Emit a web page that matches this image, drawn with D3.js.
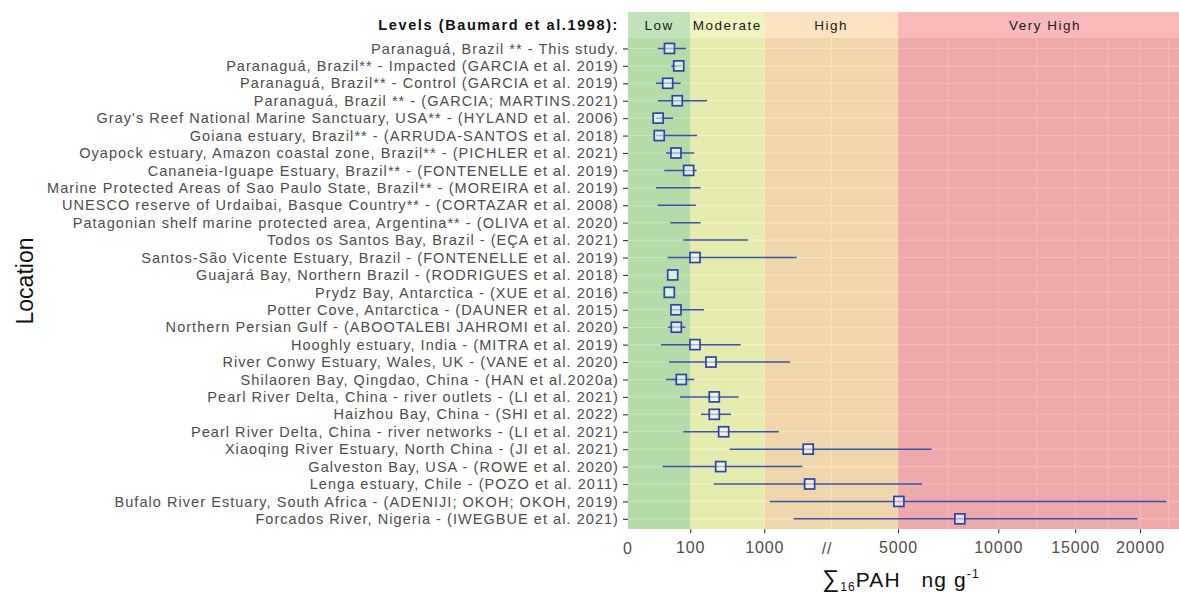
<!DOCTYPE html>
<html>
<head>
<meta charset="utf-8">
<script src="https://cdn.jsdelivr.net/npm/d3@7"></script>
<style>
  body { margin: 0; background: #fff; }
  svg { display: block; font-family: "Liberation Sans", Arial, sans-serif; }
</style>
</head>
<body>
<svg id="chart" width="1179" height="593"></svg>
<script>
// Sediment ∑16PAH concentrations (ng g-1) by location: whisker = min–max, square = mean
const locations = [
  "Paranaguá, Brazil ** - This study.",
  "Paranaguá, Brazil** - Impacted (GARCIA et al. 2019)",
  "Paranaguá, Brazil** - Control (GARCIA et al. 2019)",
  "Paranaguá, Brazil ** - (GARCIA; MARTINS.2021)",
  "Gray's Reef National Marine Sanctuary, USA** - (HYLAND et al. 2006)",
  "Goiana estuary, Brazil** - (ARRUDA-SANTOS et al. 2018)",
  "Oyapock estuary, Amazon coastal zone, Brazil** - (PICHLER et al. 2021)",
  "Cananeia-Iguape Estuary, Brazil** - (FONTENELLE et al. 2019)",
  "Marine Protected Areas of Sao Paulo State, Brazil** - (MOREIRA et al. 2019)",
  "UNESCO reserve of Urdaibai, Basque Country** - (CORTAZAR et al. 2008)",
  "Patagonian shelf marine protected area, Argentina** - (OLIVA et al. 2020)",
  "Todos os Santos Bay, Brazil - (EÇA et al. 2021)",
  "Santos-São Vicente Estuary, Brazil - (FONTENELLE et al. 2019)",
  "Guajará Bay, Northern Brazil - (RODRIGUES et al. 2018)",
  "Prydz Bay, Antarctica - (XUE et al. 2016)",
  "Potter Cove, Antarctica - (DAUNER et al. 2015)",
  "Northern Persian Gulf - (ABOOTALEBI JAHROMI et al. 2020)",
  "Hooghly estuary, India - (MITRA et al. 2019)",
  "River Conwy Estuary, Wales, UK - (VANE et al. 2020)",
  "Shilaoren Bay, Qingdao, China - (HAN et al.2020a)",
  "Pearl River Delta, China - river outlets - (LI et al. 2021)",
  "Haizhou Bay, China - (SHI et al. 2022)",
  "Pearl River Delta, China - river networks - (LI et al. 2021)",
  "Xiaoqing River Estuary, North China - (JI et al. 2021)",
  "Galveston Bay, USA - (ROWE et al. 2020)",
  "Lenga estuary, Chile - (POZO et al. 2011)",
  "Bufalo River Estuary, South Africa - (ADENIJI; OKOH; OKOH, 2019)",
  "Forcados River, Nigeria - (IWEGBUE et al. 2021)"
];
const meanValues = [15.5, 44, 11.7, 38.7, 0.4, 0.9, 34, 91, null, null, null, null, 130, 23.8,
  15.1, 34, 35.2, 130, 258, 54.6, 290, 290, 391, 1978, 357, 2015, 5037, 7883];
const minValues = [0.3, 20, 0, 0.3, 0, 0, 8.5, 5.9, 0, 0.25, 17.4, 63.6, 11.7, null,
  null, 19.2, 12.3, 2.1, 14.4, 8.5, 49, 173, 63.6, 463, 3.8, 284, 1103, 1617];
const maxValues = [77, 55, 52, 223, 25, 145, 125, 141, 170, 136, 170, 727, 1689, null,
  null, 196, 75, 612, 1532, 125, 583, 480, 1290, 6483, 1826, 6049, 22246, 19791];

const tickValues = [100, 1000, 5000, 10000, 15000, 20000];
const tickLabels = ["100", "1000", "5000", "10000", "15000", "20000"];

// Contamination levels (Baumard et al. 1998)
const levelNames = ["Low", "Moderate", "High", "Very High"];
const levelFrom = [null, 100, 1000, 5000];
const levelTo = [100, 1000, 5000, null];
const levelPanelFill = ["rgb(100,195,70)", "rgb(222,238,85)", "rgb(245,182,78)", "rgb(242,72,72)"];
const levelHeaderFill = ["#c3e2bb", "#eff3c0", "#fde3bf", "#f8b9b9"];

const svg = d3.select("#chart");
const panel = { left: 628, right: 1192, top: 38, bottom: 529.3 };

const x = d3.scalePow().exponent(0.5).domain([0, 20000]).range([656, 1140]);
const y = d3.scalePoint().domain(locations).range([panel.top, panel.bottom]).padding(0.6);

const rows = locations.map((loc, i) => ({ loc, mean: meanValues[i], min: minValues[i], max: maxValues[i] }));

svg.append("defs").append("clipPath").attr("id", "panel-clip")
  .append("rect").attr("x", panel.left).attr("y", panel.top)
  .attr("width", panel.right - panel.left).attr("height", panel.bottom - panel.top);

const plot = svg.append("g").attr("clip-path", "url(#panel-clip)");

// panel background
plot.append("rect").attr("x", panel.left).attr("y", panel.top)
  .attr("width", panel.right - panel.left).attr("height", panel.bottom - panel.top)
  .attr("fill", "#ebebeb");

// grid: one line per location, vertical lines at major breaks and sqrt-space midpoints
plot.append("g").selectAll("line").data(locations).join("line")
  .attr("x1", panel.left).attr("x2", panel.right)
  .attr("y1", d => y(d)).attr("y2", d => y(d))
  .attr("stroke", "#fff").attr("stroke-width", 1.1);

const gridMajors = [1000, 5000, 10000, 15000, 20000, 25000];
const gridValues = [];
gridMajors.forEach((v, i) => {
  gridValues.push(v);
  if (i < gridMajors.length - 1) {
    const mid = (Math.sqrt(v) + Math.sqrt(gridMajors[i + 1])) / 2;
    gridValues.push(mid * mid);
  }
});
plot.append("g").selectAll("line").data(gridValues).join("line")
  .attr("x1", d => x(d)).attr("x2", d => x(d))
  .attr("y1", panel.top).attr("y2", panel.bottom)
  .attr("stroke", "#fff").attr("stroke-width", 1.1);

// level bands over the panel
const bandX0 = i => levelFrom[i] === null ? panel.left : x(levelFrom[i]);
const bandX1 = i => levelTo[i] === null ? panel.right : x(levelTo[i]);
plot.append("g").selectAll("rect").data(levelNames).join("rect")
  .attr("x", (d, i) => bandX0(i)).attr("width", (d, i) => bandX1(i) - bandX0(i))
  .attr("y", panel.top).attr("height", panel.bottom - panel.top)
  .attr("fill", (d, i) => levelPanelFill[i]).attr("fill-opacity", 0.4);

// whiskers
const markColor = "#2a45ab";
plot.append("g").selectAll("line").data(rows.filter(r => r.min !== null && r.max !== null)).join("line")
  .attr("x1", d => x(d.min)).attr("x2", d => x(d.max))
  .attr("y1", d => y(d.loc)).attr("y2", d => y(d.loc))
  .attr("stroke", markColor).attr("stroke-opacity", 0.92).attr("stroke-width", 1.5);

// mean squares
const box = 10;
plot.append("g").selectAll("rect").data(rows.filter(r => r.mean !== null)).join("rect")
  .attr("x", d => x(d.mean) - box / 2).attr("y", d => y(d.loc) - box / 2)
  .attr("width", box).attr("height", box)
  .attr("fill", "#fff").attr("fill-opacity", 0.55)
  .attr("stroke", markColor).attr("stroke-width", 1.7);

// level header strip
const header = svg.append("g");
header.selectAll("rect").data(levelNames).join("rect")
  .attr("x", (d, i) => bandX0(i)).attr("width", (d, i) => bandX1(i) - bandX0(i))
  .attr("y", 12).attr("height", panel.top - 12)
  .attr("fill", (d, i) => levelHeaderFill[i]);
header.selectAll("text").data(levelNames).join("text")
  .attr("x", (d, i) => (bandX0(i) + bandX1(i)) / 2).attr("y", 29.5)
  .attr("text-anchor", "middle").attr("font-size", 13.5).attr("letter-spacing", 1.5)
  .attr("fill", "#1a1a1a").text(d => d);
svg.append("text").attr("x", 619).attr("y", 29.5).attr("text-anchor", "end")
  .attr("font-size", 14.5).attr("font-weight", "bold").attr("letter-spacing", 1.6)
  .attr("fill", "#111").text("Levels (Baumard et al.1998):");

// y axis
const yAxis = svg.append("g").attr("transform", `translate(${panel.left},0)`)
  .call(d3.axisLeft(y).tickSize(5).tickPadding(4));
yAxis.select(".domain").remove();
yAxis.selectAll(".tick line").attr("stroke", "#333").attr("stroke-width", 1.1);
yAxis.selectAll(".tick text").attr("font-size", 14.5).attr("letter-spacing", 1.05)
  .attr("fill", "#4d4d4d").attr("font-family", "Liberation Sans, Arial, sans-serif");

// x axis
const xAxis = svg.append("g").attr("transform", `translate(0,${panel.bottom})`)
  .call(d3.axisBottom(x).tickValues(tickValues).tickFormat((d, i) => tickLabels[i]).tickSize(4).tickPadding(8));
xAxis.select(".domain").remove();
xAxis.selectAll(".tick line").attr("stroke", "#333").attr("stroke-width", 1.1);
xAxis.selectAll(".tick text").attr("font-size", 16).attr("letter-spacing", 0.9)
  .attr("fill", "#4d4d4d").attr("font-family", "Liberation Sans, Arial, sans-serif");
// extra labels: zero at the panel edge and the scale-break mark
const extraLabels = [{ pos: panel.left, text: "0" }, { pos: x(2500), text: "//" }];
svg.append("g").selectAll("text").data(extraLabels).join("text")
  .attr("x", d => d.pos).attr("y", 553.5).attr("text-anchor", "middle")
  .attr("font-size", 16).attr("letter-spacing", 0.9).attr("fill", "#4d4d4d").text(d => d.text);

// axis titles
svg.append("text").attr("transform", "translate(33,281) rotate(-90)")
  .attr("text-anchor", "middle").attr("font-size", 23).attr("fill", "#111").text("Location");

const xt = svg.append("text").attr("x", 822).attr("y", 587).attr("font-size", 21)
  .attr("letter-spacing", 1.1).attr("fill", "#111");
xt.append("tspan").attr("font-size", 24).text("∑");
xt.append("tspan").attr("font-size", 12).attr("dy", 4).text("16");
xt.append("tspan").attr("dy", -4).text("PAH\u00a0\u00a0\u00a0ng g");
xt.append("tspan").attr("font-size", 12).attr("dy", -9).text("-1");
</script>
</body>
</html>
